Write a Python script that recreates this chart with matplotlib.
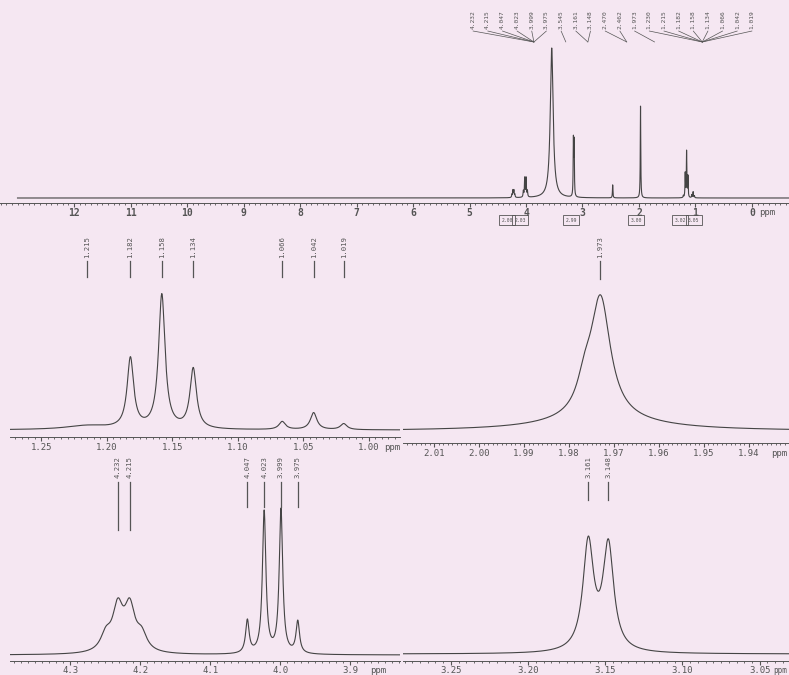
import matplotlib.pyplot as plt
import numpy as np
from matplotlib.transforms import blended_transform_factory

plt.rcParams['font.family'] = ['DejaVu Sans Mono', 'DejaVu Sans']

BG = '#f5e7f2'
INK = '#555555'
W, H = 789, 675

# full 1H spectrum: peak positions (ppm), heights, half widths
full_ppm = [4.249, 4.232, 4.215, 4.198, 4.047, 4.023, 3.999, 3.975, 3.545,
            3.161, 3.148, 2.466, 1.973, 1.215, 1.182, 1.158, 1.134, 1.066, 1.042, 1.019]
full_h = [3, 7, 7, 3, 6, 19, 19, 6, 150, 55, 53, 13, 92, 2, 24, 46, 21, 3, 6, 2]
full_w = [0.006] * 8 + [0.03] + [0.005] * 11
full_ticks = [12, 11, 10, 9, 8, 7, 6, 5, 4, 3, 2, 1, 0]

# peak pick labels over the full spectrum, grouped to their multiplets
top_labels = ['4.232', '4.215', '4.047', '4.023', '3.999', '3.975', '3.545',
              '3.161', '3.148', '2.470', '2.462', '1.973', '1.230', '1.215',
              '1.182', '1.158', '1.134', '1.066', '1.042', '1.019']
top_group = [0] * 6 + [1] + [2] * 2 + [3] * 2 + [4] + [5] * 8
group_ppm = [4.11, 3.545, 3.155, 2.466, 1.973, 1.13]

# integrals under the full spectrum
integ_ppm = [4.33, 4.10, 3.20, 2.05, 1.27, 1.03]
integ_val = ['2.00', '2.03', '2.99', '3.00', '3.02', '3.05']

# expansion 1.27 - 0.98 ppm
ml_ppm = [1.215, 1.182, 1.158, 1.134, 1.066, 1.042, 1.019]
ml_h = [4, 70, 134, 60, 8, 17, 6]
ml_w = [0.02, 0.003, 0.003, 0.003, 0.003, 0.003, 0.003]
ml_ticks = [1.25, 1.20, 1.15, 1.10, 1.05, 1.00]

# expansion 2.02 - 1.93 ppm
mr_ppm = [1.9765, 1.973, 1.973]
mr_h = [25, 120, 10]
mr_w = [0.002, 0.0027, 0.015]
mr_labels = [1.973]
mr_ticks = [2.01, 2.00, 1.99, 1.98, 1.97, 1.96, 1.95, 1.94]

# expansion 4.39 - 3.83 ppm
bl_ppm = [4.249, 4.232, 4.215, 4.198, 4.047, 4.023, 3.999, 3.975]
bl_h = [16, 43, 43, 16, 33, 142, 144, 32]
bl_w = [0.009] * 4 + [0.003] * 4
bl_labels = [4.232, 4.215, 4.047, 4.023, 3.999, 3.975]
bl_ticks = [4.3, 4.2, 4.1, 4.0, 3.9]

# expansion 3.28 - 3.03 ppm
br_ppm = [3.161, 3.148]
br_h = [108, 105]
br_w = [0.0042, 0.0042]
br_labels = [3.161, 3.148]
br_ticks = [3.25, 3.20, 3.15, 3.10, 3.05]


def spectrum(x, ppm, h, w):
    y = np.zeros_like(x)
    for p, a, g in zip(ppm, h, w):
        y += a / (1 + ((x - p) / g) ** 2)
    return y


def fy(y):
    return 1 - y / H


fig = plt.figure(figsize=(W / 100, H / 100), dpi=100)
fig.patch.set_facecolor(BG)


def panel(x0, y0, x1, y1, xlim, ylim, ticks, fmt, minor, pad_ppm, pad=1.5, ppm_fs=6.5):
    ax = fig.add_axes([x0 / W, 1 - y1 / H, (x1 - x0) / W, (y1 - y0) / H])
    ax.set_facecolor('none')
    ax.set_xlim(*xlim)
    ax.set_ylim(*ylim)
    for s in ['top', 'left', 'right']:
        ax.spines[s].set_visible(False)
    ax.spines['bottom'].set_color(INK)
    ax.spines['bottom'].set_linewidth(0.7)
    ax.set_yticks([])
    ax.set_xticks(ticks)
    ax.set_xticklabels([fmt.format(t) for t in ticks])
    ax.xaxis.set_minor_locator(plt.MultipleLocator(minor))
    ax.tick_params(axis='x', which='major', length=3, width=0.8, colors=INK,
                   labelsize=6.5, pad=pad)
    ax.tick_params(axis='x', which='minor', length=1.5, width=0.6, colors=INK)
    ax.annotate('ppm', xy=(ticks[-1], 0), xycoords=('data', 'axes fraction'),
                xytext=(pad_ppm, -3 - pad), textcoords='offset points',
                ha='left', va='top', fontsize=ppm_fs, color=INK)
    return ax


def peak_marks(ax, labels, y_text, y_top, y_bot, fs=5.2):
    tr = blended_transform_factory(ax.transData, fig.transFigure)
    for p, yb in zip(labels, y_bot):
        ax.plot([p, p], [fy(y_top), fy(yb)], transform=tr, color=INK,
                lw=0.9, clip_on=False)
        ax.text(p, fy(y_text), '{:.3f}'.format(p), transform=tr, rotation=90,
                ha='center', va='bottom', fontsize=fs, color=INK)


# ---- full spectrum
ax0 = panel(0, 35, W, 203, (13.31, -0.655), (-5, 163), full_ticks, '{:d}', 0.1, 5, pad=0.3)
for lab in ax0.get_xticklabels():
    lab.set_fontweight('bold')
    lab.set_fontsize(7)
x = np.linspace(13.0, -0.655, 30000)
ax0.plot(x, spectrum(x, full_ppm, full_h, full_w), color='#444444', lw=0.8)

tr0 = blended_transform_factory(ax0.transData, fig.transFigure)
lab_x = np.linspace(473, 752, len(top_labels))
for lx, lab, g in zip(lab_x, top_labels, top_group):
    fig.text(lx / W, fy(29), lab, rotation=90, ha='center', va='bottom',
             fontsize=4.5, color=INK)
    cx = group_ppm[g] - 0.25
    ax0.annotate('', xy=(cx, fy(42)), xycoords=tr0,
                 xytext=(lx / W, fy(31)), textcoords='figure fraction',
                 arrowprops=dict(arrowstyle='-', lw=0.5, color=INK,
                                 shrinkA=0, shrinkB=0))
for p, v in zip(integ_ppm, integ_val):
    ax0.text(p, fy(220), v, transform=tr0, ha='center',
             va='center', fontsize=3.4, color=INK,
             bbox=dict(boxstyle='square,pad=0.45', fc='none', ec=INK, lw=0.6))

# ---- 1.27 - 0.98 ppm
ax1 = panel(10, 280, 400, 437, (1.274, 0.976), (-7, 150), ml_ticks, '{:.2f}', 0.005, 11)
x = np.linspace(1.274, 0.976, 4000)
ax1.plot(x, spectrum(x, ml_ppm, ml_h, ml_w), color='#444444', lw=0.8)
peak_marks(ax1, ml_ppm, 258, 261, [277] * len(ml_ppm))

# ---- 2.02 - 1.93 ppm
ax2 = panel(403, 285, W, 443, (2.0169, 1.9311), (-12, 146), mr_ticks, '{:.2f}', 0.001, 16)
x = np.linspace(2.0169, 1.9311, 4000)
ax2.plot(x, spectrum(x, mr_ppm, mr_h, mr_w), color='#444444', lw=0.8)
peak_marks(ax2, mr_labels, 258, 261, [279])

# ---- 4.39 - 3.83 ppm
ax3 = panel(10, 500, 400, 661, (4.386, 3.829), (-6, 155), bl_ticks, '{:.1f}', 0.01, 14, pad=0.8)
x = np.linspace(4.386, 3.829, 4000)
ax3.plot(x, spectrum(x, bl_ppm, bl_h, bl_w), color='#444444', lw=0.8)
peak_marks(ax3, bl_labels, 478, 482, [530, 530, 507, 507, 507, 507])

# ---- 3.28 - 3.03 ppm
ax4 = panel(403, 500, W, 661, (3.281, 3.031), (-7, 154), br_ticks, '{:.2f}', 0.005, 9.5,
            pad=0.8, ppm_fs=5.5)
x = np.linspace(3.281, 3.031, 4000)
ax4.plot(x, spectrum(x, br_ppm, br_h, br_w), color='#444444', lw=0.8)
peak_marks(ax4, br_labels, 478, 482, [500, 500])

fig.savefig('out.png', dpi=100, facecolor=BG)
